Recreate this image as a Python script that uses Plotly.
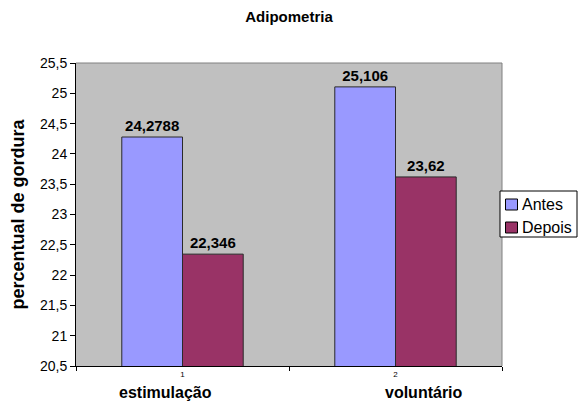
import plotly.graph_objects as go

# Adipometria: body-fat percentage before/after, per training group
groups = ["estimulação", "voluntário"]
group_ids = ["1", "2"]
series = ["Antes", "Depois"]
antes = [24.2788, 25.106]
depois = [22.346, 23.62]
colors = ["#9999FF", "#993366"]

FONT = "Liberation Sans, Arial, sans-serif"
W, H = 579, 401
L, R, T, B = 76, 77, 63, 35
PW, PH = W - L - R, H - T - B


def fmt(v):
    # Portuguese decimal comma
    return str(v).replace(".", ",")


def px(x):
    return (x - L) / PW


def py(y):
    return (H - B - y) / PH


fig = go.Figure()
for name, vals, col in zip(series, [antes, depois], colors):
    fig.add_trace(go.Bar(
        name=name, x=groups, y=vals,
        text=[fmt(v) for v in vals], textposition="outside",
        marker=dict(color=col, line=dict(color="#2a2a2a", width=1)),
        showlegend=False,
    ))
fig.update_traces(
    textfont=dict(family=FONT, size=15, color="black", weight="bold"),
    cliponaxis=False,
)

# group names sit a little off the tick centres
name_shift = [-17, 28]
annotations = [
    dict(x=name, y=py(392.5), xref="x", yref="paper", yanchor="middle",
         xshift=dx, text=f"<b>{name}</b>", showarrow=False,
         font=dict(family=FONT, size=16, color="black"))
    for name, dx in zip(groups, name_shift)
]
annotations.append(dict(
    x=px(17), y=0.5, xref="paper", yref="paper", textangle=-90,
    xanchor="center", yanchor="middle", showarrow=False,
    text="<b>percentual de gordura</b>",
    font=dict(family=FONT, size=18, color="black"),
))

# legend box drawn by hand so it fits the narrow right margin
shapes = [
    dict(type="line", xref="paper", yref="paper", x0=0, x1=1, y0=1, y1=1,
         line=dict(color="#808080", width=1)),
    dict(type="line", xref="paper", yref="paper", x0=1, x1=1, y0=0, y1=1,
         line=dict(color="#808080", width=1)),
    dict(type="rect", xref="paper", yref="paper",
         x0=px(500), x1=px(577), y0=py(237), y1=py(191),
         fillcolor="white", line=dict(color="black", width=1)),
]
for i, (name, col) in enumerate(zip(series, colors)):
    yc = 204.5 + i * 23
    shapes.append(dict(
        type="rect", xref="paper", yref="paper",
        x0=px(505.5), x1=px(517.5), y0=py(yc + 5.5), y1=py(yc - 5.5),
        fillcolor=col, line=dict(color="black", width=1)))
    annotations.append(dict(
        x=px(520), y=py(yc), xref="paper", yref="paper",
        xanchor="left", yanchor="middle", showarrow=False, text=name,
        font=dict(family=FONT, size=16, color="black")))

fig.update_layout(
    width=W, height=H,
    margin=dict(l=L, r=R, t=T, b=B, autoexpand=False),
    paper_bgcolor="white",
    plot_bgcolor="#C0C0C0",
    separators=",.",
    barmode="group",
    bargap=0.43,
    bargroupgap=0,
    font=dict(family=FONT, size=12, color="black"),
    title=dict(text="<b>Adipometria</b>", x=0.5, xref="paper",
               y=1 - 17 / H, yanchor="middle",
               font=dict(family=FONT, size=15, color="black")),
    xaxis=dict(
        type="category", range=[-0.5, 1.5], tickson="boundaries",
        tickvals=groups, ticktext=group_ids, ticks="outside",
        ticklen=4, tickcolor="black", showline=True, linecolor="black",
        linewidth=1, showgrid=False,
        tickfont=dict(family=FONT, size=8, color="black"),
    ),
    yaxis=dict(
        range=[20.5, 25.5], dtick=0.5, tick0=20.5, ticks="outside",
        ticklen=5, tickcolor="black", showline=True, linecolor="black",
        linewidth=1, showgrid=False, zeroline=False,
        tickfont=dict(family=FONT, size=14, color="black"),
    ),
    showlegend=False,
    annotations=annotations,
    shapes=shapes,
)

fig.write_html("out.html")
